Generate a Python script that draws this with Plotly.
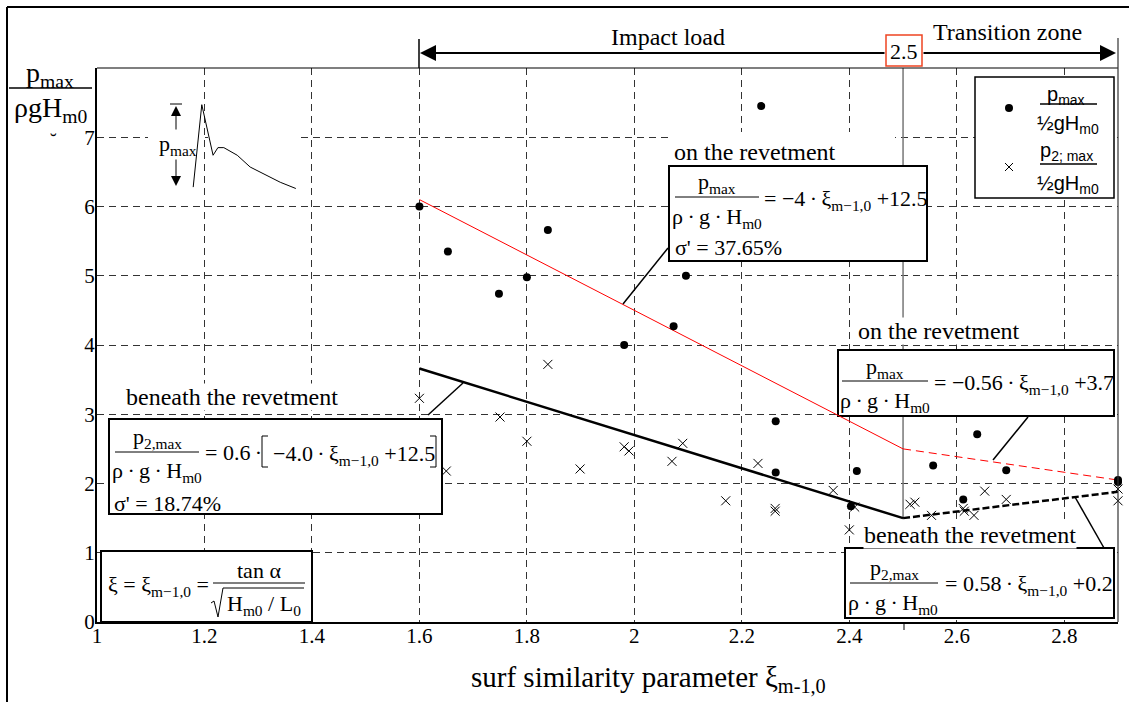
import plotly.graph_objects as go

# ---------------- data ----------------
pmax_xi = [1.600, 1.653, 1.748, 1.800, 1.839, 1.981, 2.073, 2.096, 2.236, 2.263, 2.263,
           2.403, 2.414, 2.556, 2.612, 2.638, 2.692, 2.900, 2.900]
pmax_val = [6.00, 5.35, 4.74, 4.98, 5.66, 4.00, 4.27, 5.00, 7.45, 2.90, 2.16,
            1.67, 2.18, 2.26, 1.77, 2.71, 2.19, 2.05, 2.02]

p2_xi = [1.600, 1.650, 1.750, 1.800, 1.839, 1.899, 1.981, 1.990, 2.070, 2.090, 2.170, 2.230,
         2.262, 2.262, 2.370, 2.400, 2.410, 2.513, 2.522, 2.553, 2.612, 2.614, 2.632, 2.652,
         2.692, 2.900, 2.900]
p2_val = [3.23, 2.18, 2.96, 2.61, 3.72, 2.21, 2.53, 2.47, 2.32, 2.58, 1.75, 2.29,
          1.64, 1.60, 1.90, 1.33, 1.66, 1.70, 1.73, 1.54, 1.64, 1.60, 1.54, 1.89,
          1.77, 1.92, 1.75]

fit_on_xi = [1.6, 2.5]
fit_on_val = [6.1, 2.5]
trans_on_xi = [2.5, 2.9]
trans_on_val = [2.5, 2.05]
fit_be_xi = [1.6, 2.5]
fit_be_val = [3.66, 1.5]
trans_be_xi = [2.5, 2.9]
trans_be_val = [1.5, 1.88]

sketch_t = [1.179, 1.195, 1.216, 1.225, 1.236, 1.261, 1.285, 1.316, 1.341, 1.370]
sketch_p = [6.28, 7.47, 6.74, 6.85, 6.85, 6.74, 6.57, 6.45, 6.35, 6.26]

x_ticks = [1.0, 1.2, 1.4, 1.6, 1.8, 2.0, 2.2, 2.4, 2.6, 2.8]
x_ticktext = ["1", "1.2", "1.4", "1.6", "1.8", "2", "2.2", "2.4", "2.6", "2.8"]
y_ticks = [0, 1, 2, 3, 4, 5, 6, 7]
y_ticktext = ["0", "1", "2", "3", "4", "5", "6", "7"]

# ---------------- layout helpers ----------------
W, H = 1129, 702
L, R, T, B = 97, 1118, 68, 622
X0, X1, Y0, Y1 = 1.0, 2.9, 0.0, 8.0
SERIF = "Liberation Serif"
SANS = "Liberation Sans"
TS = "\u2009"  # thin space
DOT = TS + "·" + TS


def px(x):
    return (x - L) / (R - L)


def py(y):
    return (B - y) / (B - T)


def dx(x):
    return X0 + (x - L) / (R - L) * (X1 - X0)


def dy(y):
    return Y0 + (B - y) / (B - T) * (Y1 - Y0)


fig = go.Figure()

# inset sketch of a pressure history
fig.add_trace(go.Scatter(x=sketch_t, y=sketch_p, mode="lines",
                         line=dict(color="black", width=1), hoverinfo="skip"))
# fitted lines
fig.add_trace(go.Scatter(x=fit_on_xi, y=fit_on_val, mode="lines",
                         line=dict(color="red", width=1)))
fig.add_trace(go.Scatter(x=trans_on_xi, y=trans_on_val, mode="lines",
                         line=dict(color="red", width=1, dash="8px,5px")))
fig.add_trace(go.Scatter(x=fit_be_xi, y=fit_be_val, mode="lines",
                         line=dict(color="black", width=2.5)))
fig.add_trace(go.Scatter(x=trans_be_xi, y=trans_be_val, mode="lines",
                         line=dict(color="black", width=2.5, dash="7px,3px")))
# measurements
fig.add_trace(go.Scatter(x=pmax_xi, y=pmax_val, mode="markers", cliponaxis=False,
                         marker=dict(symbol="circle", size=8, color="black")))
fig.add_trace(go.Scatter(x=p2_xi, y=p2_val, mode="markers", cliponaxis=False,
                         marker=dict(symbol="x-thin", size=9,
                                     line=dict(width=1, color="black"))))

shapes = []
annotations = []


def dline(x0, y0, x1, y1, w=1.0, color="black", layer="above"):
    shapes.append(dict(type="line", xref="x", yref="y", x0=dx(x0), y0=dy(y0),
                       x1=dx(x1), y1=dy(y1), layer=layer,
                       line=dict(color=color, width=w)))


def pline(x0, y0, x1, y1, w=1.0, color="black"):
    shapes.append(dict(type="line", xref="paper", yref="paper", x0=px(x0), y0=py(y0),
                       x1=px(x1), y1=py(y1), layer="above",
                       line=dict(color=color, width=w)))


def drect(x0, y0, x1, y1, w=2.0, color="black", fill="white", layer="between"):
    shapes.append(dict(type="rect", xref="x", yref="y", x0=dx(x0), y0=dy(y0),
                       x1=dx(x1), y1=dy(y1), layer=layer, fillcolor=fill,
                       line=dict(color=color, width=w)))


def text(s, x, y, size=22, xa="center", ya="middle", family=SERIF, bg=None):
    d = dict(text=s, x=px(x), y=py(y), xref="paper", yref="paper", showarrow=False,
             xanchor=xa, yanchor=ya, font=dict(family=family, size=size, color="black"))
    if bg:
        d.update(bgcolor=bg, borderpad=0)
    annotations.append(d)


def arrow(tipx, tipy, tailx, taily, w=2, size=1.5):
    annotations.append(dict(text="", x=px(tipx), y=py(tipy), xref="paper", yref="paper",
                            ax=tailx - tipx, ay=taily - tipy, showarrow=True,
                            arrowhead=2, arrowsize=size, arrowwidth=w,
                            arrowcolor="black", standoff=0, startstandoff=0))


# --- shapes between gridlines and traces ---
shapes.append(dict(type="line", xref="x", yref="y", x0=2.5, x1=2.5, y0=8.0, y1=1.5,
                   layer="between", line=dict(color="#777777", width=1.5)))
drect(148, 131, 200, 143, w=0, fill="white")
drect(208, 131, 297, 143, w=0, fill="white")
drect(672, 132, 895, 166, w=0, fill="white")
drect(669, 166, 927, 261)
drect(109, 419, 442, 514)
drect(101, 551, 312, 622)
drect(838, 350, 1114, 416)
drect(845, 548, 1114, 618)
drect(975, 77, 1114, 198, w=1.5)

# --- frame lines ---
pline(L, T, R, T, w=1.2)
pline(R, T - 30, R, B, w=1.2, color="#333333")
pline(7, 7, W, 7, w=2)
pline(7, 7, 7, H + 5, w=2)
# small tick below the axis at xi = 2.5
pline(904, 622, 904, 630, w=1)

# --- leader lines ---
dline(623, 304, 668, 248, w=1.5)
dline(428, 415, 463, 383, w=1.5)
dline(993, 460, 1028, 417, w=1.5)
dline(1075, 497, 1104, 548, w=1.5)

# --- fraction bars ---
pline(675, 197, 759, 197)
pline(115, 452, 199, 452)
pline(213, 583, 305, 583)
pline(842, 381, 928, 381)
pline(850, 583, 938, 583)
pline(9, 88, 92, 88, w=1.5)
# brackets of the left equation
shapes.append(dict(type="path", xref="paper", yref="paper", layer="above",
                   path="M {a},{b} L {c},{b} L {c},{d} L {a},{d}".format(
                       a=px(268), c=px(262), b=py(436), d=py(467)),
                   line=dict(color="black", width=1)))
shapes.append(dict(type="path", xref="paper", yref="paper", layer="above",
                   path="M {a},{b} L {c},{b} L {c},{d} L {a},{d}".format(
                       a=px(430), c=px(436), b=py(436), d=py(467)),
                   line=dict(color="black", width=1)))
# square root sign
shapes.append(dict(type="path", xref="paper", yref="paper", layer="above",
                   path="M {} {} L {} {} L {} {} L {} {} L {} {}".format(
                       px(211), py(603), px(214), py(601), px(218), py(617),
                       px(223), py(588), px(304), py(588)),
                   line=dict(color="black", width=1)))
pline(1040, 104, 1097, 104, w=1.5)
pline(1040, 164, 1097, 164, w=1.5)
pline(170, 104, 182, 104)

shapes.append(dict(type="rect", xref="paper", yref="paper", layer="above",
                   x0=px(886), x1=px(922), y0=py(35), y1=py(66), fillcolor="white",
                   line=dict(color="#ee4422", width=1.5)))
pline(419, 39, 419, 68, w=1.5)

# --- top zone arrows ---
arrow(420, 53, 886, 53, w=2, size=1.6)
arrow(1116, 53, 922, 53, w=2, size=1.6)
text("Impact load", 668, 37, size=24)
text("Transition zone", 1007, 32, size=24)
text("2.5", 904, 51, size=22)

# --- inset sketch annotations ---
arrow(176, 106, 176, 131, w=1, size=2)
arrow(176, 186, 176, 158, w=1, size=2)
text("p<sub>max</sub>", 178, 145, size=22)

# --- y axis title ---
text("p<sub>max</sub>", 50, 74, size=28)
text("ρgH<sub>m0</sub>", 50, 110, size=28)
text("˘", 53, 141, size=20)

# --- x axis title ---
text("surf similarity parameter ξ<sub>m-1,0</sub>", 648, 679, size=29)

# --- labels ---
text("on the revetment", 672, 152, size=24, xa="left")
text("beneath the revetment", 125, 397, size=24, xa="left", bg="white")
text("on the revetment", 857, 331, size=24, xa="left", bg="white")
text("beneath the revetment", 863, 535, size=24, xa="left", bg="white")

# --- equation: top middle ---
text("p<sub>max</sub>", 717, 183)
text("ρ" + DOT + "g" + DOT + "H<sub>m0</sub>", 717, 218)
text("= −4" + DOT + "ξ<sub>m−1,0</sub> +12.5", 762, 200, xa="left")
text("σ' = 37.65%", 673, 247, xa="left")

# --- equation: left ---
text("p<sub>2,max</sub>", 157, 438)
text("ρ" + DOT + "g" + DOT + "H<sub>m0</sub>", 157, 472)
text("= 0.6" + DOT, 203, 452, xa="left")
text("−4.0" + DOT + "ξ<sub>m−1,0</sub> +12.5", 271, 455, xa="left")
text("σ' = 18.74%", 112, 503, xa="left")

# --- equation: xi definition ---
text("ξ = ξ<sub>m−1,0</sub> =", 106, 586, xa="left")
text("tan α", 259, 570)
text("H<sub>m0</sub> / L<sub>0</sub>", 264, 605)

# --- equation: right top ---
text("p<sub>max</sub>", 885, 368)
text("ρ" + DOT + "g" + DOT + "H<sub>m0</sub>", 885, 402)
text("= −0.56" + DOT + "ξ<sub>m−1,0</sub> +3.7", 932, 384, xa="left")

# --- equation: right bottom ---
text("p<sub>2,max</sub>", 894, 569)
text("ρ" + DOT + "g" + DOT + "H<sub>m0</sub>", 893, 604)
text("= 0.58" + DOT + "ξ<sub>m−1,0</sub> +0.2", 943, 585, xa="left")

# --- legend ---
fig.add_trace(go.Scatter(x=[dx(1009)], y=[dy(108)], mode="markers",
                         marker=dict(symbol="circle", size=8, color="black")))
fig.add_trace(go.Scatter(x=[dx(1009)], y=[dy(167)], mode="markers",
                         marker=dict(symbol="x-thin", size=8,
                                     line=dict(width=1, color="black"))))
text("p<sub>max</sub>", 1066, 95, size=20, family=SANS)
text("½gH<sub>m0</sub>", 1068, 124, size=20, family=SANS)
text("p<sub>2; max</sub>", 1066, 151, size=20, family=SANS)
text("½gH<sub>m0</sub>", 1068, 184, size=20, family=SANS)

axis_common = dict(showgrid=True, gridcolor="#333333", gridwidth=1, griddash="7px,5px",
                   showline=True, linecolor="black", linewidth=2, ticks="",
                   zeroline=False, fixedrange=True,
                   tickfont=dict(family=SERIF, size=21, color="black"))

fig.update_layout(
    width=W, height=H,
    margin=dict(l=L, r=W - R, t=T, b=H - B),
    plot_bgcolor="white", paper_bgcolor="white",
    showlegend=False,
    xaxis=dict(range=[X0, X1], tickvals=x_ticks, ticktext=x_ticktext,
               ticklabelstandoff=-6, **axis_common),
    yaxis=dict(range=[Y0, Y1], tickvals=y_ticks, ticktext=y_ticktext,
               ticklabelstandoff=-4, **axis_common),
    shapes=shapes,
    annotations=annotations,
)

fig.write_html("out.html", config={"displayModeBar": False},
               post_script="document.body.style.margin='0px';")
